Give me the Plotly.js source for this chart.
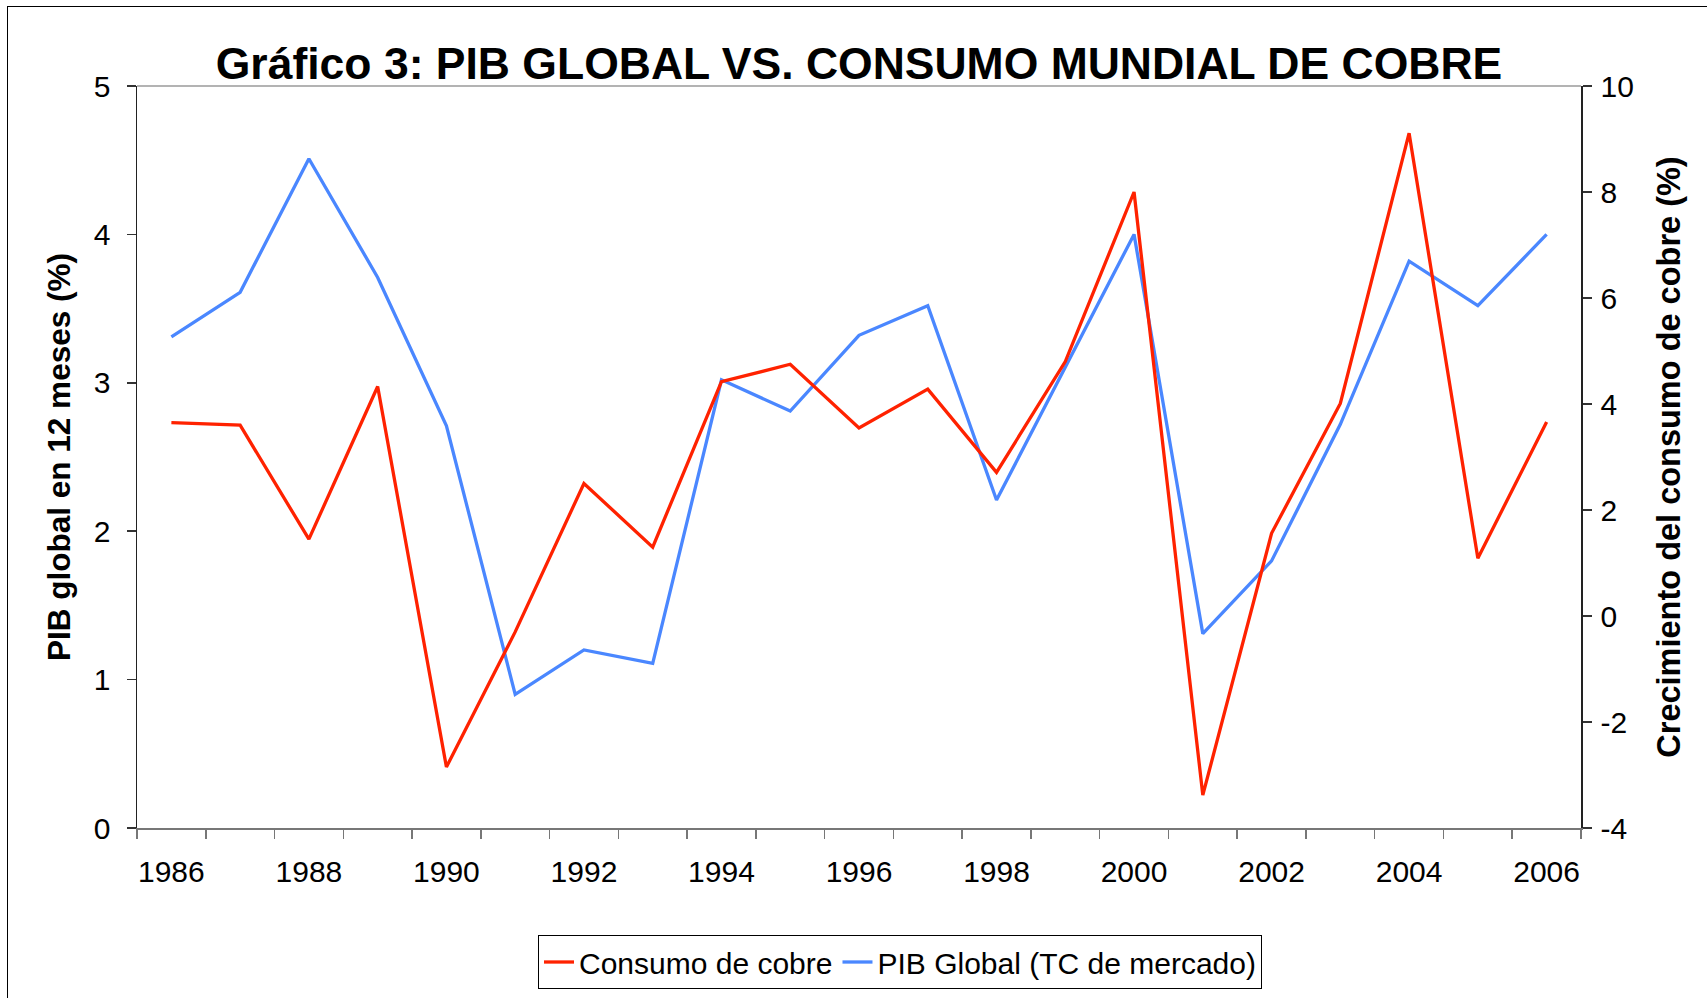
<!DOCTYPE html>
<html>
<head>
<meta charset="utf-8">
<script src="https://cdn.plot.ly/plotly-3.0.1.min.js"></script>
<style>
  html, body { margin: 0; padding: 0; background: #fff; }
  #wrap { position: relative; width: 1707px; height: 998px; overflow: hidden; }
  #chart { position: absolute; left: 0; top: 0; width: 1707px; height: 998px; }
  #frame { position: absolute; left: 7px; top: 6px; width: 1720px; height: 1020px;
           border-left: 1px solid #000; border-top: 1px solid #000; pointer-events: none; }
</style>
</head>
<body>
<div id="wrap">
  <div id="chart"></div>
  <div id="frame"></div>
</div>
<script>
// ---- Data ----
const years = [1986, 1987, 1988, 1989, 1990, 1991, 1992, 1993, 1994, 1995, 1996,
               1997, 1998, 1999, 2000, 2001, 2002, 2003, 2004, 2005, 2006];
// Crecimiento del consumo de cobre (%), right axis
const consumoCobre = [3.65, 3.60, 1.45, 4.33, -2.85, -0.30, 2.50, 1.30, 4.42, 4.75, 3.55,
                      4.28, 2.71, 4.80, 8.00, -3.38, 1.56, 4.01, 9.11, 1.09, 3.66];
// PIB global en 12 meses (%), left axis
const pibGlobal = [3.31, 3.61, 4.51, 3.71, 2.71, 0.90, 1.20, 1.11, 3.02, 2.81, 3.32,
                   3.52, 2.21, 3.10, 4.00, 1.31, 1.80, 2.72, 3.82, 3.52, 4.00];
const xTickLabels = [1986, 1988, 1990, 1992, 1994, 1996, 1998, 2000, 2002, 2004, 2006];
const leftTicks = [0, 1, 2, 3, 4, 5];
const rightTicks = [-4, -2, 0, 2, 4, 6, 8, 10];

const FONT = 'Liberation Sans, Arial, sans-serif';
const TICKFONT = { family: FONT, size: 30, color: '#000' };

const traces = [
  {
    x: years, y: consumoCobre, yaxis: 'y2', type: 'scatter', mode: 'lines',
    name: 'Consumo de cobre',
    line: { color: '#FF2200', width: 3.3 }
  },
  {
    x: years, y: pibGlobal, yaxis: 'y', type: 'scatter', mode: 'lines',
    name: 'PIB Global (TC de mercado)',
    line: { color: '#4A87FF', width: 3.3 }
  }
];

const layout = {
  width: 1707, height: 998,
  paper_bgcolor: '#ffffff', plot_bgcolor: '#ffffff',
  margin: { l: 137, r: 126, t: 86, b: 170, autoexpand: false },
  font: { family: FONT, color: '#000', size: 30 },
  title: {
    text: '<b>Gráfico 3: PIB GLOBAL VS. CONSUMO MUNDIAL DE COBRE</b>',
    font: { family: FONT, size: 44.5, color: '#000' },
    xref: 'paper', x: 0.5, xanchor: 'center',
    yref: 'container', y: 1 - 63 / 998, yanchor: 'middle'
  },
  showlegend: true,
  legend: {
    orientation: 'h',
    xref: 'container', x: 900 / 1707, xanchor: 'center',
    yref: 'container', y: 1 - 962 / 998, yanchor: 'middle',
    bordercolor: '#000', borderwidth: 1, bgcolor: '#fff',
    font: { family: FONT, size: 30, color: '#000' },
    tracegroupgap: 0
  },
  xaxis: {
    range: [1985.5, 2006.5], fixedrange: true,
    tickmode: 'array', tickvals: xTickLabels, ticktext: xTickLabels.map(String),
    ticks: '', ticklabelstandoff: 16,
    tickfont: TICKFONT,
    showline: true, linecolor: '#777', linewidth: 2,
    showgrid: false, zeroline: false,
    minor: { tickmode: 'linear', tick0: 1985.5, dtick: 1, ticks: 'outside',
             ticklen: 9, tickwidth: 1.5, tickcolor: '#777', showgrid: false }
  },
  yaxis: {
    range: [0, 5], fixedrange: true,
    tickmode: 'array', tickvals: leftTicks,
    ticks: 'outside', ticklen: 9, tickwidth: 1.5, tickcolor: '#333',
    ticklabelstandoff: 10,
    tickfont: TICKFONT,
    showline: true, linecolor: '#222', linewidth: 1.5,
    showgrid: false, zeroline: false,
    title: { text: '<b>PIB global en 12 meses (%)</b>', standoff: 14,
             font: { family: FONT, size: 31.5, color: '#000' } }
  },
  yaxis2: {
    range: [-4, 10], fixedrange: true, overlaying: 'y', side: 'right', anchor: 'x',
    tickmode: 'array', tickvals: rightTicks, ticktext: rightTicks.map(v => String(v)),
    ticks: 'outside', ticklen: 9, tickwidth: 1.5, tickcolor: '#333',
    ticklabelstandoff: 3,
    tickfont: TICKFONT,
    showline: true, linecolor: '#222', linewidth: 1.5,
    showgrid: false, zeroline: false,
    title: { text: '<b>Crecimiento del consumo de cobre (%)</b>', standoff: 24,
             font: { family: FONT, size: 32.5, color: '#000' } }
  },
  yaxis3: {
    range: [-4, 10], fixedrange: true, overlaying: 'y', side: 'right', anchor: 'x',
    tickmode: 'array', tickvals: rightTicks,
    ticks: 'inside', ticklen: 9, tickwidth: 1.5, tickcolor: '#333',
    showticklabels: false, showline: false, showgrid: false, zeroline: false
  },
  shapes: [
    { type: 'line', xref: 'paper', yref: 'paper', x0: 0, x1: 1, y0: 1, y1: 1,
      line: { color: '#9a9a9a', width: 1.5 } }
  ]
};

Plotly.newPlot('chart', traces, layout, { displayModeBar: false, staticPlot: true });
</script>
</body>
</html>
